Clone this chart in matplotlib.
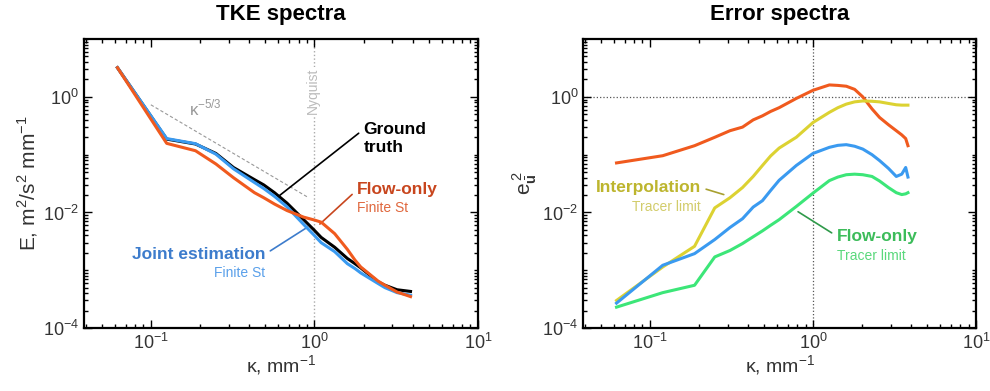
import numpy as np
import matplotlib.pyplot as plt
from matplotlib.ticker import LogLocator, NullFormatter

plt.rcParams['font.family'] = ['Liberation Sans', 'DejaVu Sans']
plt.rcParams['mathtext.fontset'] = 'custom'
plt.rcParams['mathtext.rm'] = 'Liberation Sans'
plt.rcParams['mathtext.bf'] = 'Liberation Sans:bold'

# TKE spectra (left)
k_tke = [0.0625, 0.125, 0.1875, 0.25, 0.32, 0.43, 0.49, 0.57, 0.68, 0.86, 1.0,
         1.1, 1.33, 1.59, 1.77, 1.92, 2.45, 2.7, 3.2, 3.87]
E_truth = [3.2, 0.186, 0.153, 0.105, 0.06, 0.037, 0.030, 0.022, 0.0145, 0.0075, 0.0049,
           0.0037, 0.0025, 0.0016, 0.0013, 0.0011, 6.3e-4, 5.5e-4, 4.6e-4, 4.3e-4]
E_joint = [3.2, 0.19, 0.155, 0.102, 0.057, 0.033, 0.026, 0.019, 0.0125, 0.0062, 0.0040,
           0.0030, 0.0021, 0.0013, 0.00107, 0.0009, 5.9e-4, 5.0e-4, 4.1e-4, 3.7e-4]
E_flow = [3.2, 0.157, 0.117, 0.069, 0.04, 0.022, 0.018, 0.0140, 0.0108, 0.0083, 0.0074,
          0.0068, 0.0043, 0.0023, 0.0015, 0.00114, 6.5e-4, 5.5e-4, 4.2e-4, 3.5e-4]
k_ref = [0.1, 0.9]
E_ref_0 = 0.73

# Error spectra (right)
k_err = [0.0625, 0.12, 0.188, 0.25, 0.31, 0.37, 0.43, 0.49, 0.55, 0.62, 0.79, 1.0, 1.26,
         1.42, 1.6, 1.8, 2.02, 2.3, 2.56, 2.9, 3.24, 3.5, 3.7, 3.82]
e_flow_st = [0.072, 0.096, 0.143, 0.20, 0.26, 0.30, 0.40, 0.47, 0.56, 0.65, 0.94, 1.30, 1.61,
             1.58, 1.53, 1.35, 1.0, 0.62, 0.44, 0.33, 0.26, 0.22, 0.19, 0.143]
e_interp = [3.0e-4, 1.14e-3, 2.6e-3, 0.012, 0.018, 0.027, 0.042, 0.065, 0.095, 0.13, 0.2, 0.36,
            0.54, 0.65, 0.75, 0.82, 0.85, 0.84, 0.82, 0.77, 0.73, 0.72, 0.72, 0.72]
e_joint = [2.7e-4, 1.22e-3, 1.94e-3, 3.4e-3, 5.5e-3, 7.8e-3, 0.0124, 0.016, 0.024, 0.036,
           0.065, 0.105, 0.134, 0.145, 0.149, 0.14, 0.125, 0.1, 0.079, 0.058, 0.042, 0.046,
           0.060, 0.041]
e_flow_tr = [2.3e-4, 4.1e-4, 5.5e-4, 1.7e-3, 2.2e-3, 2.9e-3, 3.8e-3, 4.8e-3, 6.0e-3, 7.5e-3,
             0.0127, 0.0216, 0.0356, 0.041, 0.045, 0.046, 0.045, 0.042, 0.035, 0.027, 0.022,
             0.0204, 0.021, 0.022]

c_orange = '#f05a1e'
c_blue = '#3a9af0'
c_yellow = '#dcd232'
c_green = '#3ce678'

fig = plt.figure(figsize=(9.9, 3.91), dpi=100)
ax1 = fig.add_axes([0.0848, 0.161, 0.398, 0.739])
ax2 = fig.add_axes([0.589, 0.161, 0.397, 0.739])

for ax in (ax1, ax2):
    ax.set_xscale('log')
    ax.set_yscale('log')
    ax.set_xlim(0.039, 10)
    ax.set_ylim(1e-4, 1e1)
    ax.yaxis.set_major_locator(LogLocator(base=100))
    ax.yaxis.set_minor_locator(LogLocator(base=10, subs=np.arange(1, 10)))
    ax.yaxis.set_minor_formatter(NullFormatter())
    ax.xaxis.set_major_locator(LogLocator(base=10))
    ax.xaxis.set_minor_locator(LogLocator(base=10, subs=np.arange(2, 10)))
    ax.xaxis.set_minor_formatter(NullFormatter())
    ax.tick_params(which='both', direction='in', top=True, right=True, width=1, colors='black',
                   labelcolor='#333333', labelsize=13)
    ax.tick_params(which='major', length=6)
    ax.tick_params(which='minor', length=3)
    for s in ax.spines.values():
        s.set_linewidth(1.6)
    ax.set_xlabel('κ, mm$^{-1}$', fontsize=14, color='#333333', labelpad=0)

# left panel
ax1.axvline(1.0, color='#aaaaaa', ls=':', lw=1, zorder=0)
ax1.text(0.985, 0.5, 'Nyquist', rotation=90, color='#bbbbbb', fontsize=10,
         ha='center', va='bottom', bbox=dict(fc='white', ec='none', pad=1), zorder=1)
kr = np.array(k_ref)
ax1.plot(kr, E_ref_0 * (kr / kr[0]) ** (-5 / 3), color='#999999', ls='--', lw=0.8, dashes=(3, 2))
ax1.text(0.215, 0.63, 'κ$^{-5/3}$', color='#999999', fontsize=12, ha='center', va='center')
ax1.plot(k_tke, E_truth, color='black', lw=2.2, zorder=3)
ax1.plot(k_tke, E_joint, color=c_blue, lw=2.2, zorder=4)
ax1.plot(k_tke, E_flow, color=c_orange, lw=2.2, zorder=5)

ax1.annotate('Ground\ntruth', xy=(0.61, 0.0195), xytext=(2.0, 0.19), fontsize=12.5,
             fontweight='bold', color='black', ha='left', va='center', linespacing=1.25,
             arrowprops=dict(arrowstyle='-', color='black', lw=1.2, shrinkA=2, shrinkB=0,
                             relpos=(0, 0.78)))
ax1.annotate('Flow-only', xy=(1.08, 0.0063), xytext=(1.82, 0.0245), fontsize=12.5,
             fontweight='bold', color='#c8461e', ha='left', va='center',
             arrowprops=dict(arrowstyle='-', color='#c8461e', lw=1.2, shrinkA=2, shrinkB=0,
                             relpos=(0, 0.5)))
ax1.text(1.82, 0.0118, 'Finite St', color='#e0683e', fontsize=10, ha='left', va='center')
ax1.annotate('Joint estimation', xy=(0.91, 0.0056), xytext=(0.50, 0.0019), fontsize=12.5,
             fontweight='bold', color='#3d7ccc', ha='right', va='center',
             arrowprops=dict(arrowstyle='-', color='#3d7ccc', lw=1.2, shrinkA=2, shrinkB=0,
                             relpos=(1, 0.5)))
ax1.text(0.50, 0.00088, 'Finite St', color='#5aa0ea', fontsize=10, ha='right', va='center')
ax1.set_ylabel('E, m$^2$/s$^2$ mm$^{-1}$', fontsize=15, color='#333333', labelpad=2)
ax1.set_title('TKE spectra', fontsize=16, fontweight='bold', pad=14)

# right panel
ax2.axvline(1.0, color='#555555', ls=':', lw=0.9, zorder=0)
ax2.axhline(1.0, color='#555555', ls=':', lw=0.9, zorder=0)
ax2.plot(k_err, e_flow_st, color=c_orange, lw=2.2)
ax2.plot(k_err, e_interp, color=c_yellow, lw=2.2)
ax2.plot(k_err, e_joint, color=c_blue, lw=2.2)
ax2.plot(k_err, e_flow_tr, color=c_green, lw=2.2)

ax2.annotate('Interpolation', xy=(0.284, 0.0204), xytext=(0.205, 0.027), fontsize=12.5,
             fontweight='bold', color='#bdb52e', ha='right', va='center',
             arrowprops=dict(arrowstyle='-', color='#a8a030', lw=1.2, shrinkA=2, shrinkB=0,
                             relpos=(1, 0.5)))
ax2.text(0.205, 0.0122, 'Tracer limit', color='#d2cc6a', fontsize=10, ha='right', va='center')
ax2.annotate('Flow-only', xy=(0.81, 0.0103), xytext=(1.40, 0.0039), fontsize=12.5,
             fontweight='bold', color='#3cbc5a', ha='left', va='center',
             arrowprops=dict(arrowstyle='-', color='#2f9a4a', lw=1.2, shrinkA=2, shrinkB=0,
                             relpos=(0, 0.5)))
ax2.text(1.40, 0.00175, 'Tracer limit', color='#5ad87c', fontsize=10, ha='left', va='center')
ax2.set_ylabel(r'$\mathregular{e}_{\bar{\mathbf{u}}}^{\mathregular{\,2}}$', fontsize=15,
               color='#333333', labelpad=2)
ax2.set_title('Error spectra', fontsize=16, fontweight='bold', pad=14)

fig.savefig('out.png', dpi=100)
